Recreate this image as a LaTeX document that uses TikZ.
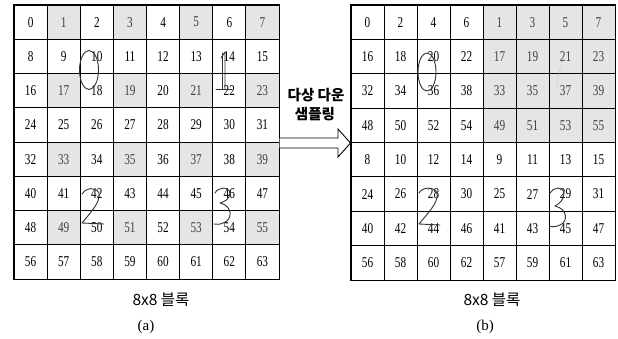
\documentclass[tikz,border=0pt]{standalone}
\usepackage{fontspec}
\setmainfont{Liberation Serif}
\newfontfamily\numfont[FakeStretch=0.75]{Liberation Serif}
\newfontfamily\kofont{Noto Sans CJK KR}
\tikzset{
  cell/.style={draw=black, line width=1pt, inner sep=0pt, font=\numfont\fontsize{15}{15}\selectfont},
  hand/.style={draw=black!80, line width=0.9pt, line cap=round, line join=round},
  faint/.style={draw=black!35, line width=0.7pt, dotted},
  frame/.style={draw=black, line width=1.3pt},
  caption/.style={font=\kofont\fontsize{15.5}{15.5}\selectfont, inner sep=0pt},
  sublabel/.style={font=\fontsize{15}{15}\selectfont, inner sep=0pt},
  bigarrow/.style={draw=black, line width=0.9pt, fill=white, line join=miter}
}
\begin{document}
\begin{tikzpicture}[x=1pt,y=-1pt]
\useasboundingbox (0,0) rectangle (618,338);
% left grid (a)
\foreach \r in {0,...,7}{
  \foreach \c in {0,...,7}{
    \pgfmathtruncatemacro\n{8*\r+\c}
    \ifodd\c\relax
      \ifodd\r\relax\def\fc{white}\def\tc{black}\else\def\fc{black!10}\def\tc{black!75}\fi
    \else\def\fc{white}\def\tc{black}\fi
    \node[cell, fill=\fc, text=\tc, minimum width=33.125pt, minimum height=34.25pt]
      (a\n) at ({14+33.125*(\c+0.5)},{5+34.25*(\r+0.5)}) {\n};
  }
}
\draw[frame] (a0.north west) rectangle (a63.south east);
% right grid (b)
\foreach \r in {0,...,7}{
  \foreach \c in {0,...,7}{
    \pgfmathtruncatemacro\rs{\r<4 ? 2*\r : 2*(\r-4)+1}
    \pgfmathtruncatemacro\cs{\c<4 ? 2*\c : 2*(\c-4)+1}
    \pgfmathtruncatemacro\n{8*\rs+\cs}
    \pgfmathtruncatemacro\sh{(\r<4)*(\c>3)}
    \ifnum\sh=1\relax\def\fc{black!10}\def\tc{black!75}\else\def\fc{white}\def\tc{black}\fi
    \node[cell, fill=\fc, text=\tc, minimum width=33pt, minimum height=34.375pt]
      (b\n) at ({351+33*(\c+0.5)},{5+34.375*(\r+0.5)}) {\n};
  }
}
\draw[frame] (b0.north west) rectangle (b63.south east);
% hollow arrow between the grids
\coordinate (arrS) at (a31.east |- 0,138);
\path[bigarrow] (arrS) -- (338,138) -- (338,129) -- (b8.west |- 0,143) -- (338,157) -- (338,148) -- (arrS |- 0,148);
\node[font=\kofont\bfseries\fontsize{14.5}{14.5}\selectfont, inner sep=0pt] (t1) at (316,95) {다상 다운};
\node[font=\kofont\bfseries\fontsize{14.5}{14.5}\selectfont, inner sep=0pt] (t2) at (315,114) {샘플링};
% captions
\node[caption] (ca) at (161,300) {8x8 블록};
\node[sublabel] (la) at (146,327) {(a)};
\node[caption] (cb) at (492,300) {8x8 블록};
\node[sublabel] (lb) at (485,327) {(b)};
% handwritten digits, left grid
\draw[hand] (89,70) ellipse [x radius=9.5, y radius=19.5];
\draw[hand] (221,58) -- (225,52) -- (225,89);
\draw[hand] (222,53) -- (222,89);
\draw[hand] (216,89) -- (232,89);
\draw[hand] (82,194) .. controls (85,188) and (95,186) .. (99,193) .. controls (101,203) and (88,215) .. (82,223) -- (104,224);
\draw[hand] (215,193) .. controls (218,187) and (229,186) .. (230,193) .. controls (230,199) and (224,202) .. (220,203) .. controls (233,206) and (233,220) .. (223,223) .. controls (219,225) and (216,224) .. (214,224);
% handwritten digits, right grid
\draw[hand] (427,72) ellipse [x radius=9, y radius=19];
\draw[faint] (565,52) .. controls (560,66) and (558,78) .. (556,90);
\draw[hand] (419,193) .. controls (422,187) and (434,186) .. (437,193) .. controls (439,203) and (426,215) .. (419,224) -- (440,225);
\draw[hand] (550,193) .. controls (553,187) and (563,186) .. (564,193) .. controls (564,200) and (559,204) .. (555,206) .. controls (568,209) and (568,222) .. (560,225) .. controls (556,227) and (552,227) .. (549,226);
\end{tikzpicture}
\end{document}
